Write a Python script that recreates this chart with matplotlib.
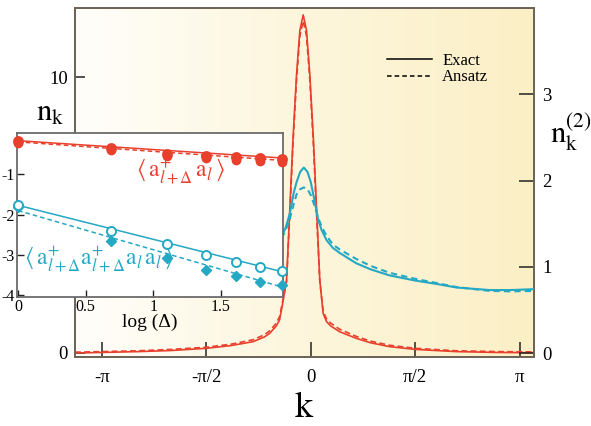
import numpy as np
import matplotlib
matplotlib.use('Agg')
import matplotlib.pyplot as plt
from matplotlib.lines import Line2D
from matplotlib.colors import LinearSegmentedColormap

plt.rcParams['font.family'] = ['Liberation Serif', 'DejaVu Serif']
plt.rcParams['mathtext.fontset'] = 'stix'
plt.rcParams['axes.unicode_minus'] = False

# ---------------- data (main panel) ----------------
k_red = [-3.55, -3.14, -2.6, -2.1, -1.57, -1.2, -0.87, -0.7, -0.62, -0.52, -0.47,
         -0.415, -0.365, -0.315, -0.27, -0.215, -0.165, -0.115, -0.065, -0.015,
         0.04, 0.085, 0.135, 0.185, 0.236, 0.3, 0.435, 0.686, 0.9, 1.186, 1.572,
         2.19, 2.8, 3.36]
nk_exact = [0.0, 0.02, 0.05, 0.09, 0.17, 0.27, 0.41, 0.58, 0.71, 0.98, 1.2,
            1.92, 2.65, 5.3, 7.7, 10.1, 11.7, 12.26, 11.7, 10.1,
            7.7, 5.3, 2.65, 1.44, 1.14, 0.98, 0.77, 0.53, 0.37, 0.23, 0.13,
            0.05, 0.02, 0.01]
nk_ansatz = [0.03, 0.05, 0.08, 0.13, 0.21, 0.32, 0.48, 0.66, 0.8, 1.08, 1.32,
             1.98, 2.6, 5.1, 7.5, 9.9, 11.5, 12.04, 11.5, 9.9,
             7.5, 5.1, 2.6, 1.52, 1.24, 1.08, 0.86, 0.6, 0.43, 0.28, 0.17,
             0.08, 0.05, 0.04]

k_blue = [-0.44, -0.38, -0.315, -0.26, -0.215, -0.16, -0.105, -0.05, 0.0, 0.06,
          0.11, 0.16, 0.236, 0.33, 0.435, 0.686, 0.9, 1.186, 1.572, 1.9, 2.19,
          2.69, 3.0, 3.36]
nk2_exact = [1.35, 1.45, 1.62, 1.85, 1.98, 2.1, 2.15, 2.1, 1.98, 1.75,
             1.55, 1.43, 1.31, 1.22, 1.16, 1.04, 0.97, 0.90, 0.84, 0.80, 0.76,
             0.73, 0.73, 0.74]
nk2_ansatz = [1.33, 1.42, 1.56, 1.72, 1.84, 1.9, 1.92, 1.9, 1.83, 1.70,
              1.57, 1.47, 1.36, 1.26, 1.20, 1.09, 1.01, 0.93, 0.86, 0.81, 0.765,
              0.72, 0.715, 0.72]

k_tick_vals = [-np.pi, -np.pi / 2, 0, np.pi / 2, np.pi]
k_tick_labels = ['-π', '-π/2', '0', 'π/2', 'π']
nk_ticks = [0, 10]
nk2_ticks = [0, 1, 2, 3]

# ---------------- data (inset) ----------------
log_delta = [0.0, 0.69, 1.10, 1.39, 1.61, 1.79, 1.95]
single_exact = [-0.18, -0.36, -0.49, -0.55, -0.58, -0.61, -0.63]
single_ansatz = [-0.22, -0.41, -0.54, -0.61, -0.64, -0.67, -0.69]
pair_exact = [-1.77, -2.41, -2.74, -3.01, -3.18, -3.30, -3.40]
pair_ansatz = [-1.81, -2.66, -3.08, -3.38, -3.52, -3.66, -3.75]

fit_x = [0.0, 1.96]
single_fit_exact = [-0.17, -0.60]
single_fit_ansatz = [-0.20, -0.66]
pair_fit_exact = [-1.77, -3.42]
pair_fit_ansatz = [-1.90, -3.80]

inset_xticks = [0, 0.5, 1, 1.5]
inset_xticklabels = ['0', '0.5', '1', '1.5']
inset_yticks = [-1, -2, -3, -4]
inset_yticklabels = ['-1', '-2', '-3', '-4']

RED = '#e8402c'
BLUE = '#25a8c4'
SPINE = '#6e6458'

fig = plt.figure(figsize=(5.91, 4.26), dpi=100)
ax = fig.add_axes([0.1269, 0.1620, 0.7767, 0.8192])

# gradient background (white -> pale yellow)
grad = np.linspace(0, 1, 256)[None, :]
cmap = LinearSegmentedColormap.from_list('bg', ['#fffefa', '#fdf6dc', '#fbefc5'])
ax.imshow(grad, extent=[0, 1, 0, 1], transform=ax.transAxes, aspect='auto',
          cmap=cmap, zorder=0, interpolation='bilinear')

ax.plot(k_red, nk_exact, color=RED, lw=1.2, zorder=3)
ax.plot(k_red, nk_ansatz, color=RED, lw=1.2, ls=(0, (3.5, 2)), zorder=3)
ax.set_xlim(-3.55, 3.36)
ax.set_ylim(-0.145, 12.51)
ax.set_yticks(nk_ticks)
ax.set_xticks(k_tick_vals)
ax.set_xticklabels(k_tick_labels)
ax.tick_params(axis='x', direction='in', length=11, width=1.1, pad=9,
               labelsize=13.5, color='#222222')
ax.tick_params(axis='y', direction='in', length=7, width=1.1, pad=5,
               labelsize=13.5, color='#222222')
for s in ax.spines.values():
    s.set_color(SPINE)
    s.set_linewidth(1.4)

ax2 = ax.twinx()
ax2.plot(k_blue, nk2_exact, color=BLUE, lw=1.5, zorder=3)
ax2.plot(k_blue, nk2_ansatz, color=BLUE, lw=1.5, ls=(0, (3, 2)), zorder=3)
ax2.set_ylim(-0.046, 4.0)
ax2.set_yticks(nk2_ticks)
ax2.tick_params(axis='y', direction='in', length=11, width=1.1, pad=6,
                labelsize=13.5, color='#222222')
for s in ax2.spines.values():
    s.set_color(SPINE)
    s.set_linewidth(1.4)

ax.set_xlabel(r'$\mathrm{k}$', fontsize=26, labelpad=4)
fig.text(50 / 591, 1 - 113 / 426, r'$\mathrm{n_k}$', fontsize=22,
         ha='center', va='center')
fig.text(571 / 591, 1 - 132 / 426, r'$\mathrm{n_k^{(2)}}$', fontsize=22,
         ha='center', va='center')

handles = [Line2D([], [], color='black', lw=1.1),
           Line2D([], [], color='black', lw=1.1, ls=(0, (3, 2)))]
ax2.legend(handles, ['Exact', 'Ansatz'], loc='center left',
           bbox_to_anchor=(0.68, 0.825), frameon=False, fontsize=12,
           handlelength=2.7, handletextpad=0.6, labelspacing=0.05,
           borderpad=0, borderaxespad=0)

# ---------------- inset ----------------
axi = fig.add_axes([17 / 591, 1 - 297 / 426, 266 / 591, 164 / 426])
axi.set_zorder(5)
axi.set_facecolor('white')
axi.plot(fit_x, single_fit_exact, color=RED, lw=1.1)
axi.plot(fit_x, single_fit_ansatz, color=RED, lw=1.1, ls=(0, (3, 2)))
axi.plot(fit_x, pair_fit_exact, color=BLUE, lw=1.1)
axi.plot(fit_x, pair_fit_ansatz, color=BLUE, lw=1.1, ls=(0, (3, 2)))
axi.plot(log_delta, single_ansatz, 'o', color=RED, ms=6, clip_on=False, zorder=4)
axi.plot(log_delta, single_exact, 'o', mfc=RED, mec=RED, ms=6.5, mew=1.3,
         clip_on=False, zorder=4)
axi.plot(log_delta, pair_ansatz, 'D', color=BLUE, ms=5, clip_on=False, zorder=4)
axi.plot(log_delta, pair_exact, 'o', mfc='white', mec=BLUE, ms=6.5, mew=1.4,
         clip_on=False, zorder=4)
axi.set_xlim(-0.008, 1.96)
axi.set_ylim(-4.04, 0.02)
axi.set_xticks(inset_xticks)
axi.set_xticklabels(inset_xticklabels)
axi.set_yticks(inset_yticks)
axi.set_yticklabels(inset_yticklabels)
axi.tick_params(direction='in', length=5, width=1.0, labelsize=11.5, pad=1.5,
                color='#222222')
for s in axi.spines.values():
    s.set_color('#6b6b6b')
    s.set_linewidth(1.3)
axi.set_xlabel('log (Δ)', fontsize=14, labelpad=-1)
axi.text(1.20, -0.95, r'$\langle\, \mathrm{a}^{+}_{l+\Delta}\,\mathrm{a}_{l}\,\rangle$',
         color=RED, fontsize=17, ha='center', va='center')
axi.text(0.60, -3.13,
         r'$\langle\, \mathrm{a}^{+}_{l+\Delta}\mathrm{a}^{+}_{l+\Delta}\mathrm{a}_{l}\,\mathrm{a}_{l}\,\rangle$',
         color=BLUE, fontsize=17, ha='center', va='center')

fig.savefig('out.png', dpi=100)
